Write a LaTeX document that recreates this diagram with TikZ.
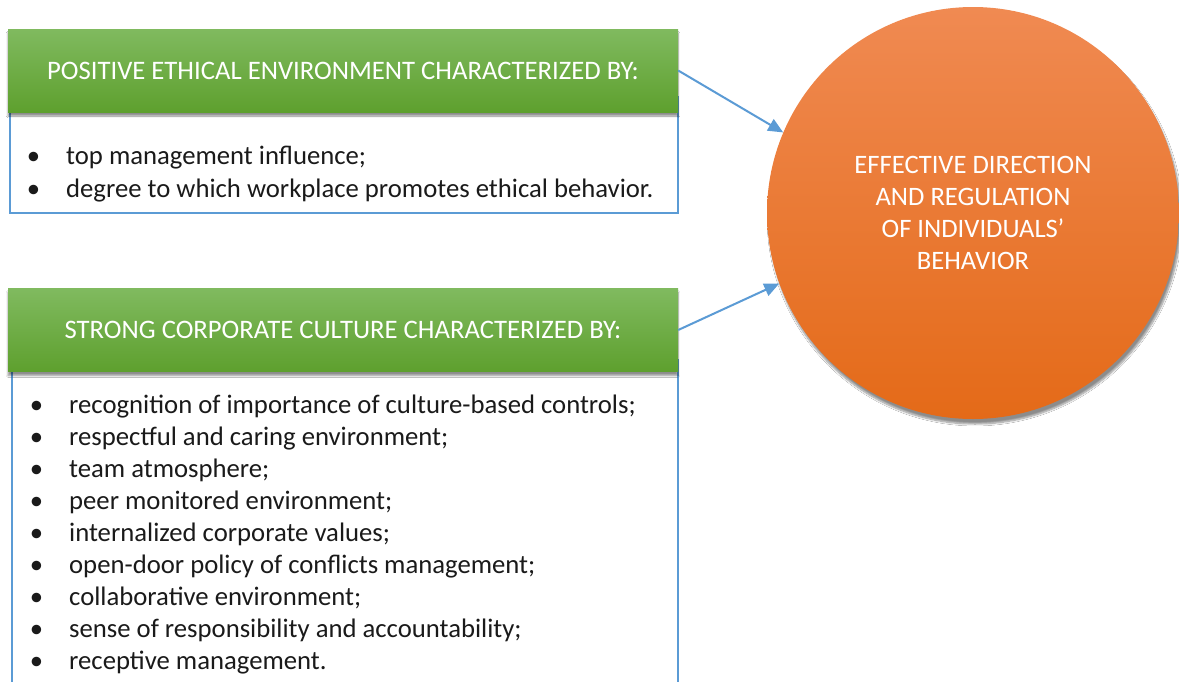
\documentclass[tikz,border=0pt]{standalone}
\usepackage{fontspec}
\setmainfont{Carlito}
\usetikzlibrary{arrows.meta,shadows.blur}
\definecolor{gtop}{HTML}{80BA5F}
\definecolor{gbot}{HTML}{5EA02E}
\definecolor{otop}{HTML}{F08A52}
\definecolor{obot}{HTML}{E46A18}
\definecolor{bline}{HTML}{5B9BD5}
\definecolor{txt}{HTML}{1A1A1A}
\newcommand{\bitem}[1]{\llap{\textbullet\hspace{26pt}}#1}
\tikzset{
  px/.style={x=1pt,y=-1pt},
  header/.style={minimum width=670pt, minimum height=83pt, inner sep=0pt,
    top color=gtop, bottom color=gbot, draw=none, text=white,
    font=\fontsize{26.7}{30}\selectfont,
    blur shadow={shadow xshift=0pt, shadow yshift=-4pt, shadow blur steps=6, shadow opacity=45}},
  listbox/.style={draw=bline, line width=2pt, fill=white},
  listtext/.style={align=left, inner sep=0pt, text=txt},
  link/.style={draw=bline, line width=2pt, -{Triangle[length=15pt,width=13pt]}},
  target/.style={circle, minimum size=412pt, inner sep=0pt, top color=otop, bottom color=obot,
    text=white, align=center, font=\fontsize{26.6}{32}\selectfont,
    blur shadow={shadow xshift=2pt, shadow yshift=-5pt, shadow blur steps=8, shadow opacity=45}}
}
\begin{document}
\begin{tikzpicture}[px]
\useasboundingbox (0,0) rectangle (1179,681);
\clip (0,0) rectangle (1179,681);
\fill[white] (0,0) rectangle (1179,681);
% list boxes
\path[listbox] (10,97) rectangle (678,213);
\path[listbox] (12,360) rectangle (678,700);
% headers
\node[header] (h1) at (343,70.5) {POSITIVE ETHICAL ENVIRONMENT CHARACTERIZED BY:};
\node[header] (h2) at (343,330) {STRONG CORPORATE CULTURE CHARACTERIZED BY:};
% lists (anchored at the baseline of their last line)
\node[listtext, anchor=base west, font=\fontsize{26.7}{33}\selectfont] (l1) at (66,197) {%
\bitem{top management influence;}\\
\bitem{degree to which workplace promotes ethical behavior.}};
\node[listtext, anchor=base west, font=\fontsize{26.7}{32}\selectfont] (l2) at (69,669) {%
\bitem{recognition of importance of culture-based controls;}\\
\bitem{respectful and caring environment;}\\
\bitem{team atmosphere;}\\
\bitem{peer monitored environment;}\\
\bitem{internalized corporate values;}\\
\bitem{open-door policy of conflicts management;}\\
\bitem{collaborative environment;}\\
\bitem{sense of responsibility and accountability;}\\
\bitem{receptive management.}};
% circle
\node[target] (c) at (973,213) {EFFECTIVE DIRECTION\\AND REGULATION\\OF INDIVIDUALS’\\BEHAVIOR};
% connectors
\draw[link] (h1.east) -- (c.157);
\draw[link] (h2.east) -- (c.200);
\end{tikzpicture}
\end{document}
